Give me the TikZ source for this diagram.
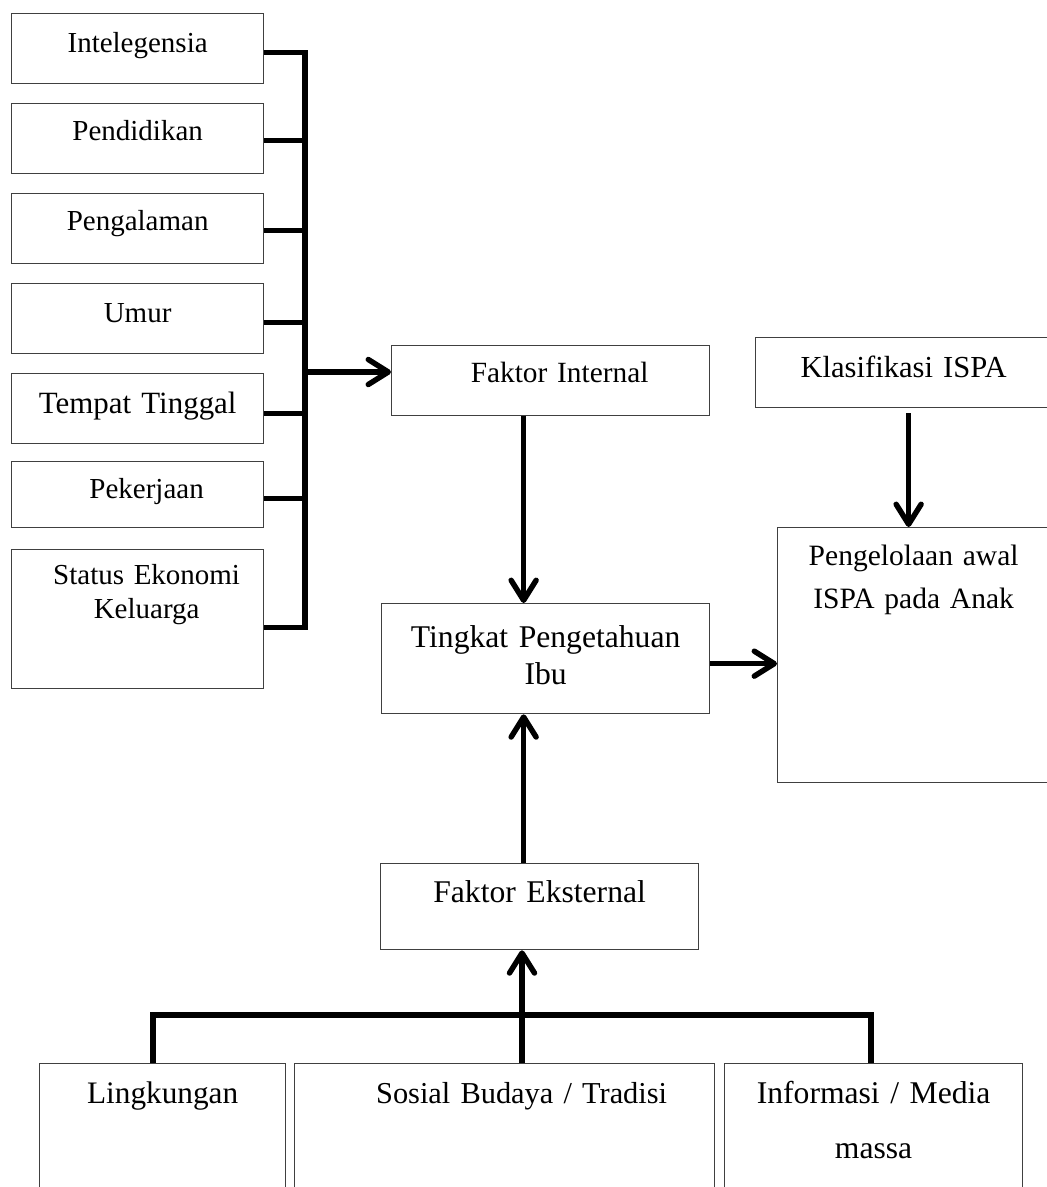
\documentclass[tikz,border=0pt]{standalone}
\usepackage{fontspec}
\setmainfont{Liberation Serif}
\usetikzlibrary{arrows.meta}

\begin{document}
\begin{tikzpicture}[x=0.02cm, y=-0.02cm,
    box/.style={draw=black!75, line width=0.75pt, inner sep=0pt, anchor=north west,
        align=center, font=\fontsize{17}{20}\selectfont},
    link/.style={line width=3.1pt},
    arr/.style={link, -{Straight Barb[length=0.4cm, width=0.5cm, round]}}]
    \useasboundingbox (0,0) rectangle (1047,1187);
    % internal factors
    \node[box, text width=5.04cm, text height=0.78cm, text depth=0.62cm, font=\fontsize{16.5}{19}\selectfont] (intel) at (11,13) {Intelegensia};
    \node[box, text width=5.04cm, text height=0.74cm, text depth=0.66cm, font=\fontsize{16.5}{19}\selectfont] (pend) at (11,103) {Pendidikan};
    \node[box, text width=5.04cm, text height=0.74cm, text depth=0.66cm, font=\fontsize{16.5}{19}\selectfont] (peng) at (11,193) {Pengalaman};
    \node[box, text width=5.04cm, text height=0.78cm, text depth=0.62cm, font=\fontsize{16.5}{19}\selectfont] (umur) at (11,283) {Umur};
    \node[box, text width=5.04cm, text height=0.80cm, text depth=0.60cm, font=\fontsize{17.6}{20}\selectfont] (tempat) at (11,373) {Tempat Tinggal};
    \node[box, text width=5.04cm, text height=0.74cm, text depth=0.58cm, font=\fontsize{16.5}{19}\selectfont] (kerja) at (11,461) {\hspace*{0.36cm}Pekerjaan};
    \node[box, text width=5.04cm, text height=0.70cm, text depth=2.08cm, font=\fontsize{16.5}{19.4}\selectfont] (status) at (11,549) {\hspace*{0.36cm}Status Ekonomi\\\hspace*{0.36cm}Keluarga};
    % middle column
    \node[box, text width=6.36cm, text height=0.74cm, text depth=0.66cm, font=\fontsize{16.7}{20}\selectfont] (fint) at (391,345) {\hspace*{0.36cm}Faktor Internal};
    \node[box, text width=6.56cm, text height=0.88cm, text depth=1.32cm, font=\fontsize{18}{21}\selectfont] (tingkat) at (381,603) {Tingkat Pengetahuan\\Ibu};
    \node[box, text width=6.36cm, text height=0.78cm, text depth=0.94cm, font=\fontsize{18}{21}\selectfont] (fext) at (380,863) {Faktor Eksternal};
    % right column
    \node[box, text width=5.92cm, text height=0.80cm, text depth=0.60cm, font=\fontsize{17.4}{20}\selectfont] (klas) at (755,337) {Klasifikasi ISPA};
    \node[box, text width=5.44cm, text height=0.76cm, text depth=4.34cm, font=\fontsize{16.8}{24.5}\selectfont] (kelola) at (777,527) {Pengelolaan awal\\ISPA pada Anak};
    % external factors
    \node[box, text width=4.92cm, text height=0.80cm, text depth=3.20cm, font=\fontsize{17.8}{20}\selectfont] (ling) at (39,1063) {Lingkungan};
    \node[box, text width=8.40cm, text height=0.80cm, text depth=3.20cm, font=\fontsize{17.3}{20}\selectfont] (sosial) at (294,1063) {\hspace*{0.68cm}Sosial Budaya / Tradisi};
    \node[box, text width=5.96cm, text height=0.80cm, text depth=3.20cm, font=\fontsize{18}{31.3}\selectfont] (info) at (724,1063) {Informasi / Media\\massa};

    \coordinate (hub) at (305,372);
    \coordinate (ebus) at (522,1015);
    \coordinate (stat) at ([yshift=-0.17cm]status.east);
    \coordinate (fdrop) at ([xshift=-0.54cm]fint.south);
    \coordinate (kdrop) at ([xshift=0.1cm,yshift=-0.1cm]klas.south);
    \coordinate (tout) at ([yshift=-0.1cm]tingkat.east);
    \coordinate (eup) at ([xshift=-0.32cm]fext.north);

    % bracket of the internal factors
    \draw[link] (intel.base east) -- (intel.base east -| hub) -- (stat -| hub) -- (stat);
    \draw[link] (pend.base east) -- (pend.base east -| hub);
    \draw[link] (peng.base east) -- (peng.base east -| hub);
    \draw[link] (umur.base east) -- (umur.base east -| hub);
    \draw[link] (tempat.base east) -- (tempat.base east -| hub);
    \draw[link] (kerja.base east) -- (kerja.base east -| hub);
    \draw[arr] (hub) -- (hub -| fint.west);

    \draw[arr] (fdrop) -- (fdrop |- tingkat.north);
    \draw[arr] (kdrop) -- (kdrop |- kelola.north);
    \draw[arr] (tout) -- (tout -| kelola.west);
    \draw[arr] (eup) -- (eup |- tingkat.south);

    % bracket of the external factors
    \draw[link, line width=3.4pt] ([xshift=-0.2cm]ling.north) |- (ebus) -| ([xshift=-0.06cm]info.north);
    \draw[link] (ebus |- sosial.north) -- (ebus);
    \draw[arr] (ebus) -- (ebus |- fext.south);
\end{tikzpicture}
\end{document}
